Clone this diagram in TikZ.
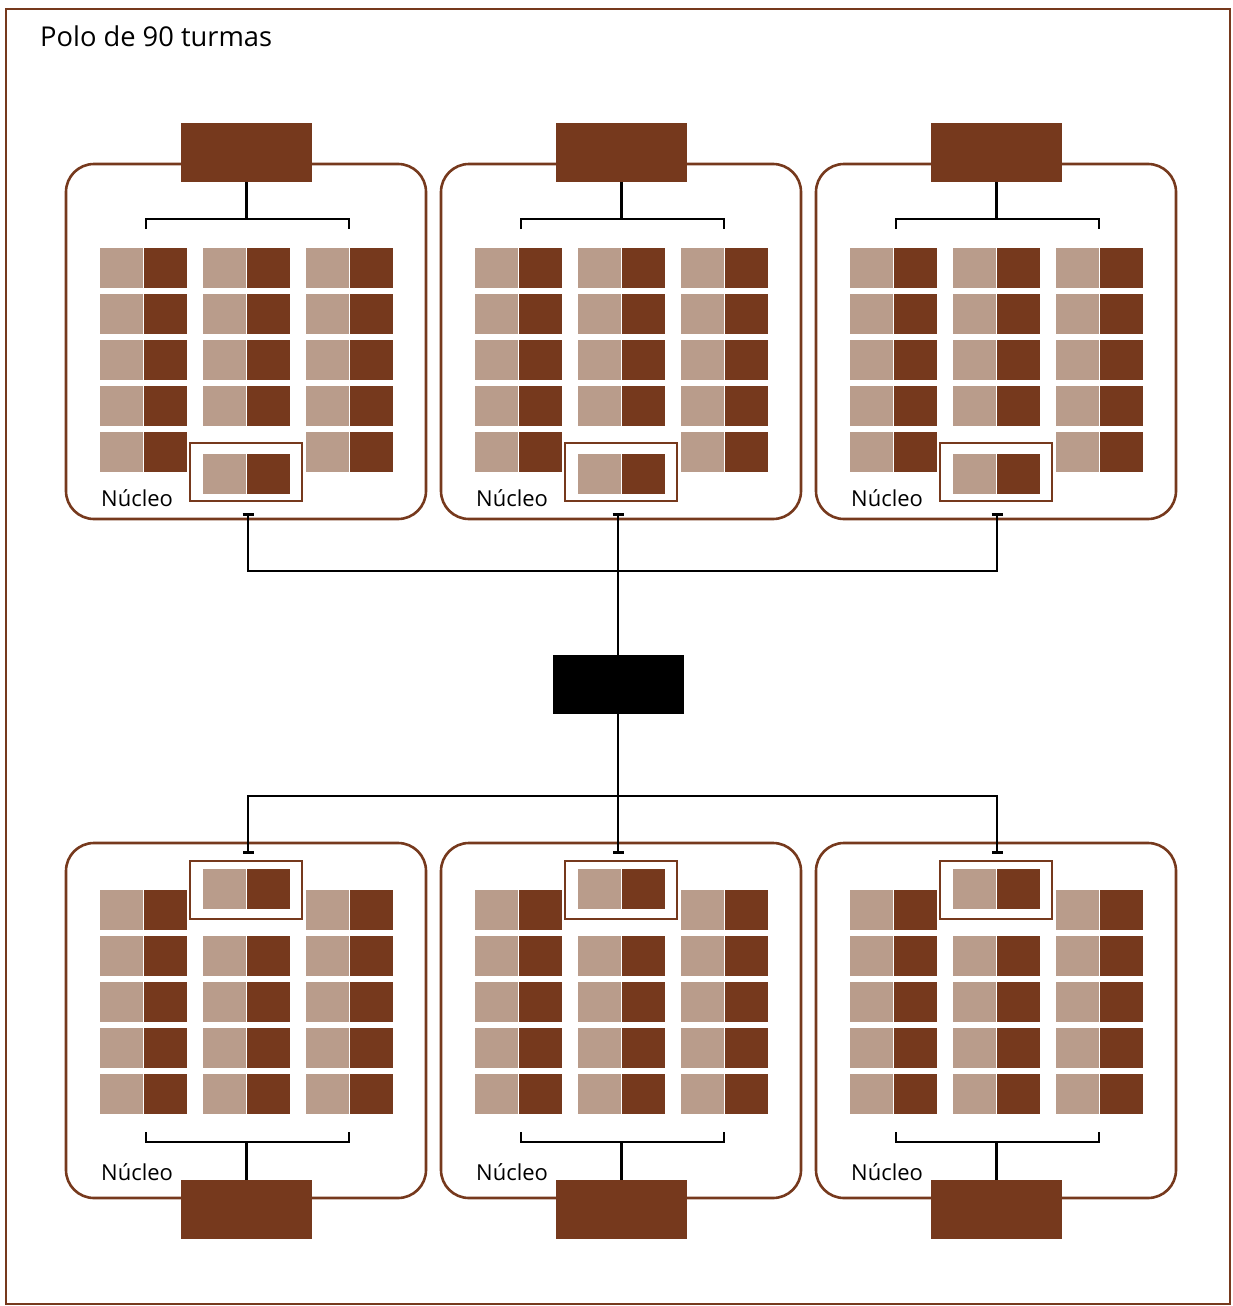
\documentclass[tikz,border=0pt]{standalone}
\usepackage{fontspec}
\setmainfont{Open Sans}
\usetikzlibrary{arrows.meta}
\definecolor{dk}{RGB}{118,57,29}
\definecolor{lt}{RGB}{185,156,139}
\tikzset{tbar/.tip={Bar[width=11pt]}}
\begin{document}
\begin{tikzpicture}[x=1pt,y=-1pt,
  outerframe/.style={draw=dk,line width=2.4pt},
  cluster/.style={draw=dk,line width=2.6pt,rounded corners=28pt,minimum width=360pt,minimum height=355pt,inner sep=0pt},
  head/.style={fill=dk,minimum width=131pt,minimum height=59pt,inner sep=0pt},
  hub/.style={fill=black,minimum width=131pt,minimum height=59pt,inner sep=0pt},
  hlbox/.style={draw=dk,line width=2.6pt,minimum width=112pt,minimum height=58pt,inner sep=0pt},
  wire/.style={black,line width=2.7pt},
  lbl/.style={font=\fontsize{22}{26}\selectfont,anchor=base west,inner sep=0pt},
  tilepair/.pic={\fill[lt] (0,0) rectangle (43,40); \fill[dk] (44,0) rectangle (87,40);}
]
\useasboundingbox (0,0) rectangle (1233,1306);
\draw[outerframe] (6,9) rectangle (1230,1304);
\node[font=\fontsize{27.3}{31}\selectfont,anchor=base west,inner sep=0pt] (title) at (40,47) {Polo de 90 turmas};

% top clusters
\foreach \i/\dx in {1/0,2/375,3/750}{
  \node[cluster] (ct\i) at (246+\dx,341.5) {};
  \node[head] (ht\i) at (246.5+\dx,152.5) {};
  \coordinate (bkt\i) at (246.5+\dx,219);
  \coordinate (blt\i) at (146+\dx,229);
  \coordinate (brt\i) at (349+\dx,229);
  \draw[wire] (ht\i.south) -- (bkt\i);
  \draw[wire] (blt\i) -- ++(0,-10) -| (brt\i);
  \foreach \r in {0,...,4}{
    \pic at (100+\dx,248+46*\r) {tilepair};
    \pic at (306+\dx,248+46*\r) {tilepair};
  }
  \foreach \r in {0,...,3}{
    \pic at (203+\dx,248+46*\r) {tilepair};
  }
  \node[hlbox] (hlt\i) at (246+\dx,472) {};
  \pic at (203+\dx,454) {tilepair};
  \node[lbl] (nt\i) at (101+\dx,506) {Núcleo};
}

% bottom clusters
\foreach \i/\dx in {1/0,2/375,3/750}{
  \node[cluster] (cb\i) at (246+\dx,1020.5) {};
  \node[head] (hb\i) at (246.5+\dx,1209.5) {};
  \coordinate (bkb\i) at (246.5+\dx,1143);
  \coordinate (blb\i) at (146+\dx,1132);
  \coordinate (brb\i) at (349+\dx,1132);
  \draw[wire] (hb\i.north) -- (bkb\i);
  \draw[wire] (blb\i) -- ++(0,10) -| (brb\i);
  \foreach \r in {0,...,4}{
    \pic at (100+\dx,890+46*\r) {tilepair};
    \pic at (306+\dx,890+46*\r) {tilepair};
  }
  \foreach \r in {1,...,4}{
    \pic at (203+\dx,890+46*\r) {tilepair};
  }
  \node[hlbox] (hlb\i) at (246+\dx,890) {};
  \pic at (203+\dx,869) {tilepair};
  \node[lbl] (nb\i) at (101+\dx,1180) {Núcleo};
}

% central hub and buses
\node[hub] (hub) at (618.5,684.5) {};
\coordinate (ta1) at (248,513);
\coordinate (ta2) at (618,513);
\coordinate (ta3) at (997,513);
\coordinate (busT) at (618,571);
\coordinate (tb1) at (248,854);
\coordinate (tb2) at (618,854);
\coordinate (tb3) at (997,854);
\coordinate (busB) at (618,796);
\draw[wire,{tbar}-{tbar}] (ta1) -- (ta1 |- busT) -- (ta3 |- busT) -- (ta3);
\draw[wire,{tbar}-] (ta2) -- (ta2 |- hub.north);
\draw[wire] (ta2 |- hub.south) -- (busB);
\draw[wire,{tbar}-{tbar}] (tb1) -- (tb1 |- busB) -- (tb3 |- busB) -- (tb3);
\draw[wire,{tbar}-] (tb2) -- (busB);
\end{tikzpicture}
\end{document}
